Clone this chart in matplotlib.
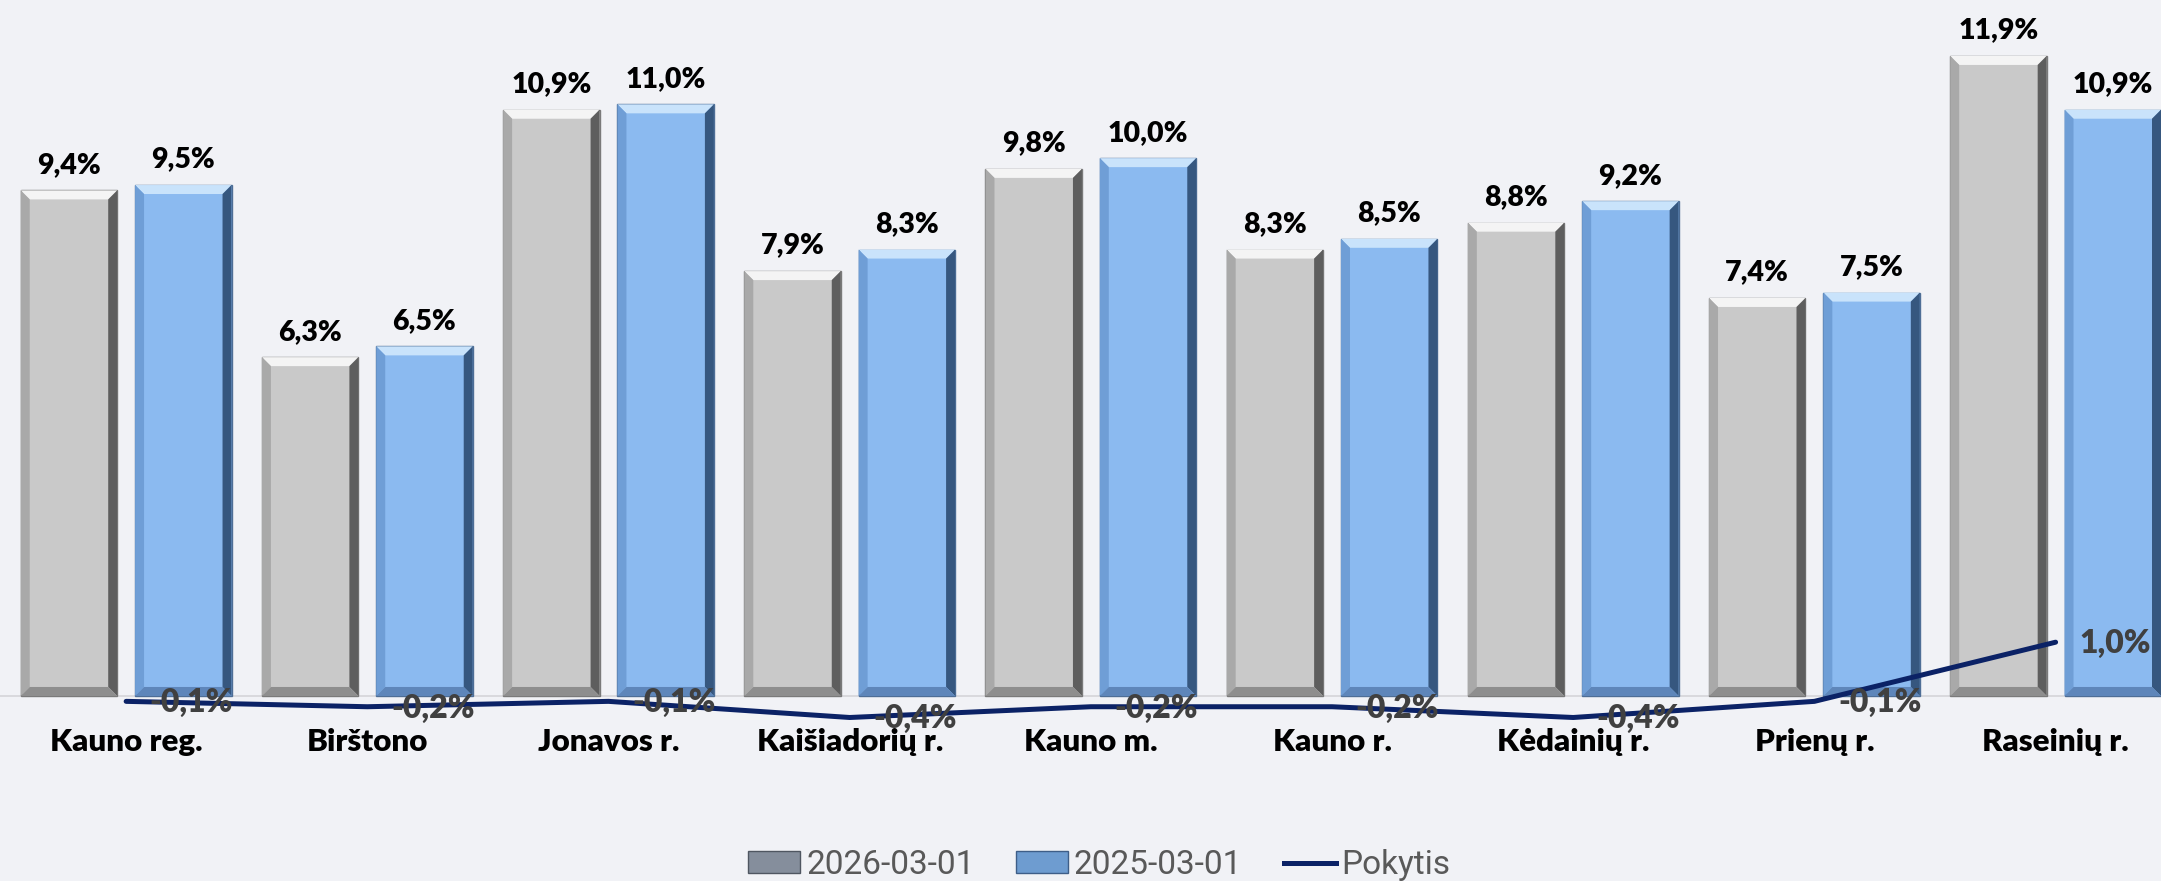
import matplotlib
matplotlib.use("Agg")
import matplotlib.pyplot as plt
from matplotlib.patches import Polygon, Patch
from matplotlib.lines import Line2D
import numpy as np

categories = ["Kauno reg.", "Birštono", "Jonavos r.", "Kaišiadorių r.", "Kauno m.",
              "Kauno r.", "Kėdainių r.", "Prienų r.", "Raseinių r."]
v2026 = [9.4, 6.3, 10.9, 7.9, 9.8, 8.3, 8.8, 7.4, 11.9]
v2025 = [9.5, 6.5, 11.0, 8.3, 10.0, 8.5, 9.2, 7.5, 10.9]
pokytis = [-0.1, -0.2, -0.1, -0.4, -0.2, -0.2, -0.4, -0.1, 1.0]
series_names = ["2026-03-01", "2025-03-01", "Pokytis"]

BG = "#F1F2F6"
GRAY = "#C9C9C9"
BLUE = "#8BBAF0"
NAVY = "#0B2266"

W, H, DPI = 2161, 881, 100
fig = plt.figure(figsize=(W / DPI, H / DPI), dpi=DPI, facecolor=BG)
ax = fig.add_axes([0, 0, 1, 1], facecolor=BG)
XL = (-0.523, 8.437)
YL = (-3.44, 12.94)
ax.set_xlim(*XL)
ax.set_ylim(*YL)
ax.axis("off")

x = np.arange(len(categories))
bw = 0.4
off = 0.237

ax.axhline(0, color="#D5D5D8", lw=1.2, zorder=1)

bars1 = ax.bar(x - off, v2026, bw, color=GRAY, edgecolor="#7A7A7A", lw=1.0, zorder=2)
bars2 = ax.bar(x + off, v2025, bw, color=BLUE, edgecolor="#4E6E96", lw=1.0, zorder=2)

# bevel decoration
xpp = (XL[1] - XL[0]) / W
ypp = (YL[1] - YL[0]) / H
bev = 9


def bevel(bar, top, left, right, bottom):
    x0 = bar.get_x(); x1 = x0 + bar.get_width()
    y0 = 0; y1 = bar.get_height()
    dx = bev * xpp; dy = bev * ypp
    polys = [
        ([(x0, y1), (x1, y1), (x1 - dx, y1 - dy), (x0 + dx, y1 - dy)], top),
        ([(x0, y0), (x0 + dx, y0 + dy), (x0 + dx, y1 - dy), (x0, y1)], left),
        ([(x1, y0), (x1, y1), (x1 - dx, y1 - dy), (x1 - dx, y0 + dy)], right),
        ([(x0, y0), (x1, y0), (x1 - dx, y0 + dy), (x0 + dx, y0 + dy)], bottom),
    ]
    for pts, c in polys:
        ax.add_patch(Polygon(pts, closed=True, facecolor=c, edgecolor="none", zorder=3))


for b in bars1:
    bevel(b, "#F4F4F4", "#A9A9A9", "#5E5E5E", "#8E8E8E")
for b in bars2:
    bevel(b, "#C9E3FB", "#6F9ED6", "#36577F", "#5E86BA")

lab_font = "Lato"
WEIGHT = "heavy"
for b, v in zip(list(bars1) + list(bars2), v2026 + v2025):
    ax.annotate(f"{v:.1f}%".replace(".", ","), (b.get_x() + b.get_width() / 2, b.get_height()),
                xytext=(0, 9), textcoords="offset points", ha="center", va="bottom",
                fontsize=20.5, fontweight=WEIGHT, color="black", family=lab_font, zorder=5)

ax.plot(x, pokytis, color=NAVY, lw=3.6, zorder=4, solid_capstyle="round")
for xi, v in zip(x, pokytis):
    ax.annotate(f"{v:.1f}%".replace(".", ","), (xi, v), xytext=(17, -1), textcoords="offset points",
                ha="left", va="center", fontsize=23, fontweight=WEIGHT, color="#404040",
                family=lab_font, zorder=5)

for xi, c in zip(x, categories):
    ax.annotate(c, (xi, 0), xytext=(0, -33), textcoords="offset points", ha="center", va="center",
                fontsize=22.5, fontweight=WEIGHT, color="black", family=lab_font, zorder=5)

handles = [Patch(facecolor="#858E9C", edgecolor="#4F5661", label=series_names[0]),
           Patch(facecolor="#6E9CD0", edgecolor="#3E5E88", label=series_names[1]),
           Line2D([0], [0], color=NAVY, lw=3.6, label=series_names[2])]
fig.legend(handles=handles, loc="center", bbox_to_anchor=(1099.5 / W, 1 - 865 / H), ncol=3,
           frameon=False, prop={"family": "Roboto", "size": 24},
           labelcolor="#595959", handlelength=1.55, handleheight=0.62, handletextpad=0.18,
           columnspacing=1.25, borderpad=0, borderaxespad=0)

fig.savefig("out.png", dpi=DPI, facecolor=BG)
